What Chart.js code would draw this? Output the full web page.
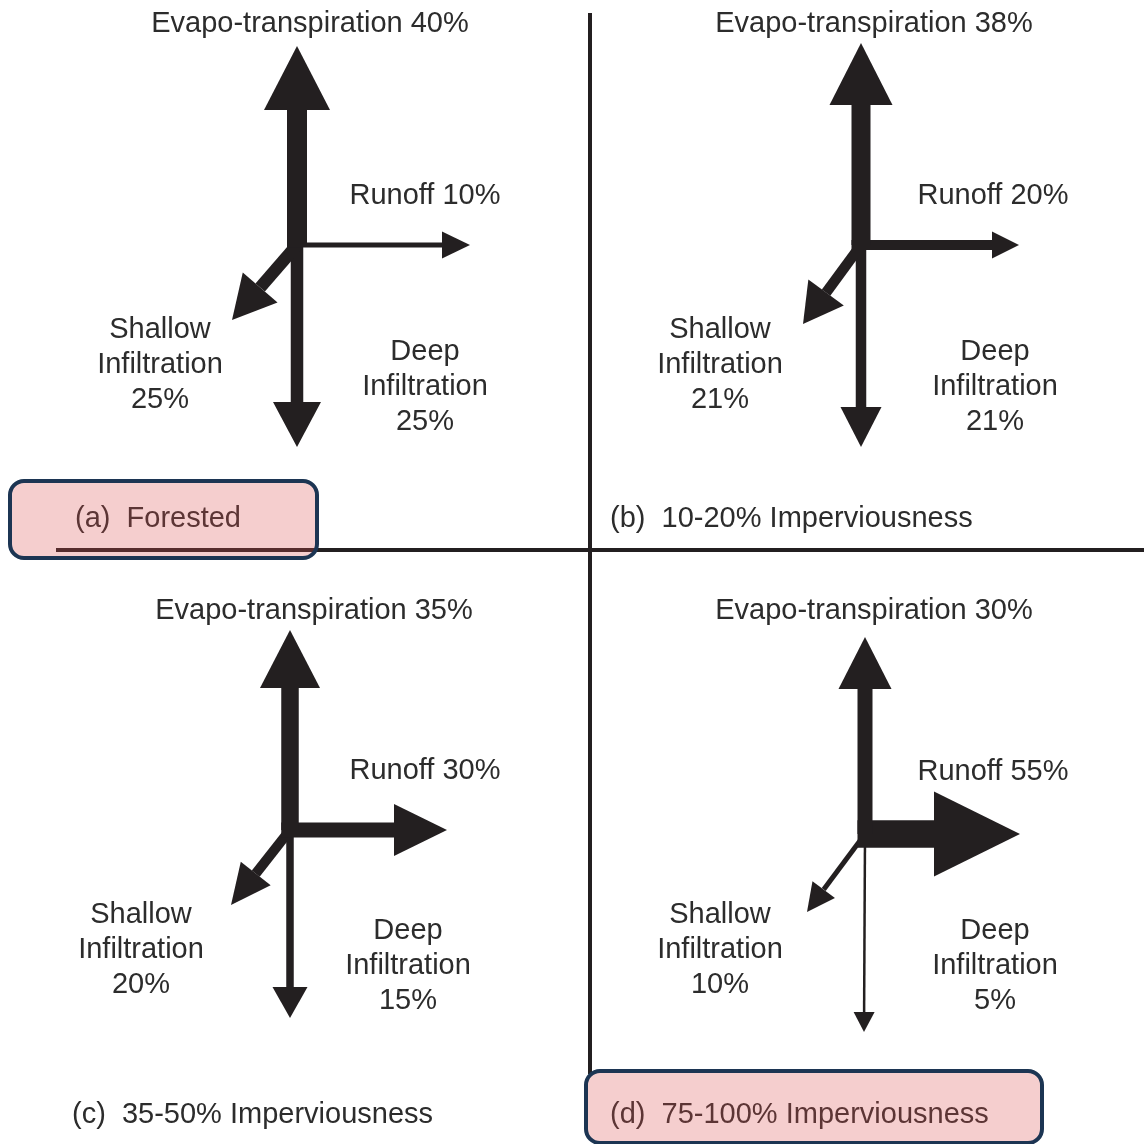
<!DOCTYPE html>
<html>
<head>
<meta charset="utf-8">
<script src="https://cdn.jsdelivr.net/npm/chart.js@4.4.1/dist/chart.umd.min.js"></script>
<style>
  html, body { margin: 0; padding: 0; background: #ffffff; }
  #wrap { width: 1144px; height: 1144px; }
</style>
</head>
<body>
<div id="wrap"><canvas id="c" width="1144" height="1144"></canvas></div>
<script>
// ---------- DATA ----------
const categories = ['(a)  Forested', '(b)  10-20% Imperviousness', '(c)  35-50% Imperviousness', '(d)  75-100% Imperviousness'];
const evapotranspiration = [40, 38, 35, 30];
const runoff = [10, 20, 30, 55];
const shallowInfiltration = [25, 21, 20, 10];
const deepInfiltration = [25, 21, 15, 5];

// ---------- LAYOUT (positions of panel origins, arrow tips, labels) ----------
const layout = [
  { o: [297, 245], et: [297, 46],  ro: [470, 245],  sh: [232, 320], dp: [297, 447],  title: [75, 527],   etL: [310, 32],  roL: [425, 204], shL: [160, 338], dpL: [425, 360] },
  { o: [861, 245], et: [861, 43],  ro: [1019, 245], sh: [803, 324], dp: [861, 447],  title: [610, 527],  etL: [874, 32],  roL: [993, 204], shL: [720, 338], dpL: [995, 360] },
  { o: [290, 830], et: [290, 630], ro: [447, 830],  sh: [231, 905], dp: [290, 1018], title: [72, 1123],  etL: [314, 619], roL: [425, 779], shL: [141, 923], dpL: [408, 939] },
  { o: [865, 834], et: [865, 637], ro: [1020, 834], sh: [807, 912], dp: [864, 1032], title: [610, 1123], etL: [874, 619], roL: [993, 780], shL: [720, 923], dpL: [995, 939] }
];
// arrow head [width, length] per panel
const headStyle = {
  et: [[66, 64], [63, 62], [60, 58], [53, 52]],
  ro: [[27, 28], [27, 27], [52, 53], [85, 86]],
  sh: [[46, 43], [44, 39], [38, 40], [28, 28]],
  dp: [[48, 45], [41, 40], [35, 31], [21, 20]]
};
const shaftPerPercent = 0.5;
const INK = '#231f20';
const TEXT = '#2c2c2c';
const FONT = '29px "Liberation Sans", Arial, sans-serif';

// ---------- BUILD DATASETS ----------
function arrowDataset(origin, tip, value, head, startOffset) {
  const dx = tip[0] - origin[0], dy = tip[1] - origin[1];
  const len = Math.hypot(dx, dy);
  const ux = dx / len, uy = dy / len;
  const s = startOffset || 0;
  const start = { x: origin[0] - ux * s, y: origin[1] - uy * s };
  const base = { x: tip[0] - ux * head[1], y: tip[1] - uy * head[1] };
  return {
    data: [start, base],
    borderColor: INK,
    backgroundColor: INK,
    borderWidth: value * shaftPerPercent,
    borderCapStyle: 'butt',
    pointRadius: 0,
    pointHoverRadius: 0,
    fill: false,
    tension: 0,
    clip: false,
    headW: head[0],
    headL: head[1]
  };
}

const datasets = [];
layout.forEach((L, i) => {
  datasets.push(arrowDataset(L.o, L.et, evapotranspiration[i], headStyle.et[i], 0));
  datasets.push(arrowDataset(L.o, L.ro, runoff[i], headStyle.ro[i], evapotranspiration[i] * shaftPerPercent / 2));
  datasets.push(arrowDataset(L.o, L.sh, shallowInfiltration[i], headStyle.sh[i], 0));
  datasets.push(arrowDataset(L.o, L.dp, deepInfiltration[i], headStyle.dp[i], 0));
});

// ---------- PLUGINS ----------
const dividerPlugin = {
  id: 'dividers',
  beforeDatasetsDraw(chart) {
    const { ctx, scales: { x, y } } = chart;
    ctx.save();
    ctx.strokeStyle = INK;
    ctx.lineWidth = 4;
    ctx.beginPath();
    ctx.moveTo(x.getPixelForValue(590), y.getPixelForValue(13));
    ctx.lineTo(x.getPixelForValue(590), y.getPixelForValue(1074));
    ctx.moveTo(x.getPixelForValue(56), y.getPixelForValue(550));
    ctx.lineTo(x.getPixelForValue(1144), y.getPixelForValue(550));
    ctx.stroke();
    ctx.restore();
  }
};

const headPlugin = {
  id: 'arrowHeads',
  afterDatasetsDraw(chart) {
    const { ctx } = chart;
    ctx.save();
    chart.data.datasets.forEach((ds, i) => {
      const pts = chart.getDatasetMeta(i).data;
      const p0 = pts[0], p1 = pts[1];
      const dx = p1.x - p0.x, dy = p1.y - p0.y;
      const len = Math.hypot(dx, dy);
      const ux = dx / len, uy = dy / len;
      const px = -uy, py = ux;
      const w = ds.headW / 2;
      ctx.fillStyle = ds.borderColor;
      ctx.beginPath();
      ctx.moveTo(p1.x + px * w, p1.y + py * w);
      ctx.lineTo(p1.x + ux * ds.headL, p1.y + uy * ds.headL);
      ctx.lineTo(p1.x - px * w, p1.y - py * w);
      ctx.closePath();
      ctx.fill();
    });
    ctx.restore();
  }
};

const labelPlugin = {
  id: 'labels',
  afterDatasetsDraw(chart) {
    const { ctx, scales: { x, y } } = chart;
    const lh = 35;
    ctx.save();
    ctx.fillStyle = TEXT;
    ctx.font = FONT;
    ctx.textBaseline = 'alphabetic';
    layout.forEach((L, i) => {
      ctx.textAlign = 'center';
      ctx.fillText('Evapo-transpiration ' + evapotranspiration[i] + '%', x.getPixelForValue(L.etL[0]), y.getPixelForValue(L.etL[1]));
      ctx.fillText('Runoff ' + runoff[i] + '%', x.getPixelForValue(L.roL[0]), y.getPixelForValue(L.roL[1]));
      ['Shallow', 'Infiltration', shallowInfiltration[i] + '%'].forEach((t, k) => {
        ctx.fillText(t, x.getPixelForValue(L.shL[0]), y.getPixelForValue(L.shL[1] + k * lh));
      });
      ['Deep', 'Infiltration', deepInfiltration[i] + '%'].forEach((t, k) => {
        ctx.fillText(t, x.getPixelForValue(L.dpL[0]), y.getPixelForValue(L.dpL[1] + k * lh));
      });
      ctx.textAlign = 'left';
      ctx.fillText(categories[i], x.getPixelForValue(L.title[0]), y.getPixelForValue(L.title[1]));
    });
    ctx.restore();
  }
};

const highlightBoxes = [[10, 481, 317, 558], [586, 1071, 1042, 1143]];
const highlightPlugin = {
  id: 'highlights',
  afterDraw(chart) {
    const { ctx, scales: { x, y } } = chart;
    ctx.save();
    highlightBoxes.forEach(b => {
      const x0 = x.getPixelForValue(b[0]), y0 = y.getPixelForValue(b[1]);
      const x1 = x.getPixelForValue(b[2]), y1 = y.getPixelForValue(b[3]);
      ctx.beginPath();
      ctx.roundRect(x0, y0, x1 - x0, y1 - y0, 14);
      ctx.fillStyle = 'rgba(220, 80, 80, 0.28)';
      ctx.fill();
      ctx.lineWidth = 4;
      ctx.strokeStyle = '#1c3553';
      ctx.stroke();
    });
    ctx.restore();
  }
};

new Chart(document.getElementById('c'), {
  type: 'line',
  data: { datasets },
  options: {
    responsive: false,
    devicePixelRatio: 1,
    animation: false,
    events: [],
    layout: { padding: 0 },
    plugins: { legend: { display: false }, tooltip: { enabled: false } },
    scales: {
      x: { type: 'linear', min: 0, max: 1144, display: false },
      y: { type: 'linear', min: 0, max: 1144, reverse: true, display: false }
    }
  },
  plugins: [dividerPlugin, headPlugin, labelPlugin, highlightPlugin]
});
</script>
</body>
</html>
